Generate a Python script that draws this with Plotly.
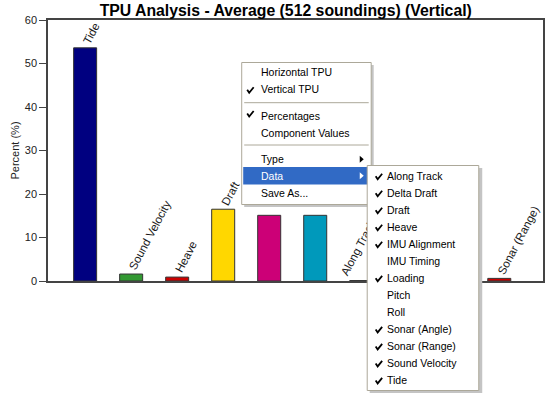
import plotly.graph_objects as go

# ---- data ----
categories = ["Tide", "Sound Velocity", "Heave", "Draft", "Delta Draft", "Loading",
              "Along Track", "IMU Alignment", "Sonar (Angle)", "Sonar (Range)"]
values = [53.6, 1.6, 0.9, 16.5, 15.1, 15.1, 0.1, 0.3, 0.3, 0.6]
bar_colors = ["#000080", "#339933", "#CC0000", "#FFD700", "#CC0077", "#0099BB",
              "#A0A0A0", "#808000", "#6600CC", "#CC0000"]
shown_labels = ["Tide", "Sound Velocity", "Heave", "Draft", "", "",
                "Along Track", "", "", "Sonar (Range)"]
y_ticks = [0, 10, 20, 30, 40, 50, 60]

menu_items = ["Horizontal TPU", "Vertical TPU", None, "Percentages", "Component Values",
              None, "Type", "Data", "Save As..."]
menu_checked = ["Vertical TPU", "Percentages"]
sub_items = ["Along Track", "Delta Draft", "Draft", "Heave", "IMU Alignment", "IMU Timing",
             "Loading", "Pitch", "Roll", "Sonar (Angle)", "Sonar (Range)", "Sound Velocity", "Tide"]
sub_unchecked = ["IMU Timing", "Pitch", "Roll"]
# labels partly hidden behind the popup menu are drawn as trace text (below the menu)
behind_menu = ["Along Track"]

W, H = 553, 397
L, R, T, B = 48, 545, 20, 281
PX_PER_CAT = 46.2
LABEL_FONT = dict(family="Liberation Sans", size=11.5, color="#1A1A1A")


def px(x):
    return (x - L) / (R - L)


def py(y):
    return (B - y) / (B - T)


xs = list(range(len(categories)))
fig = go.Figure()
fig.add_trace(go.Bar(
    x=xs, y=values,
    marker=dict(color=bar_colors, line=dict(color="#333333", width=1)),
    width=0.5, hoverinfo="skip",
))
# transparent overlay carrying labels that must sit below the menu
fig.add_trace(go.Bar(
    x=xs, y=values, width=0.5, offset=-0.25 - 3 / PX_PER_CAT,
    marker=dict(color="rgba(0,0,0,0)", line=dict(width=0)),
    text=[lab if lab in behind_menu else "" for lab in shown_labels],
    textposition="outside", textangle=-62, constraintext="none", cliponaxis=False,
    outsidetextfont=LABEL_FONT,
    hoverinfo="skip",
))

shapes = []
annos = []
FONT = "Liberation Sans"

for i, (lab, v) in enumerate(zip(shown_labels, values)):
    if lab and lab not in behind_menu:
        annos.append(dict(x=i - 0.25, y=v, xref="x", yref="y", text=lab, showarrow=False,
                          textangle=-62, xanchor="left", yanchor="bottom", borderpad=0,
                          xshift=6, yshift=1, font=LABEL_FONT))


def rect(x0, y0, x1, y1, fill, line=None):
    shapes.append(dict(type="rect", xref="paper", yref="paper", layer="above",
                       x0=px(x0), x1=px(x1), y0=py(y1), y1=py(y0),
                       fillcolor=fill,
                       line=dict(color=line or fill, width=1 if line else 0)))


def hline(x0, x1, y, color):
    shapes.append(dict(type="line", xref="paper", yref="paper", layer="above",
                       x0=px(x0), x1=px(x1), y0=py(y), y1=py(y),
                       line=dict(color=color, width=1)))


def path(pts, color, closed=False, width=1.6):
    d = "M " + " L ".join(f"{px(a):.5f},{py(b):.5f}" for a, b in pts)
    if closed:
        d += " Z"
    shapes.append(dict(type="path", xref="paper", yref="paper", layer="above", path=d,
                       fillcolor=color if closed else None,
                       line=dict(color=color, width=0 if closed else width)))


def check(x, y):
    path([(x - 3, y - 0.5), (x - 1, y + 2.5), (x + 3.5, y - 3)], "#000000", width=1.8)


def text(x, y, s, color="#000000"):
    annos.append(dict(xref="paper", yref="paper", x=px(x), y=py(y), text=s, showarrow=False,
                      xanchor="left", yanchor="middle", borderpad=0,
                      font=dict(family=FONT, size=10.5, color=color)))


# main menu
rect(245, 65, 375, 207, "#C4C4C4")
rect(242.5, 62.5, 372.5, 204.5, "#FFFFFF", "#ACA899")
row_y = [72.3, 89.3, 102.7, 116, 133, 145, 159.3, 175.7, 192.7]
for item, yy in zip(menu_items, row_y):
    if item is None:
        hline(245, 370, yy, "#ACA899")
        continue
    if item == "Data":
        rect(244, 167, 371, 184.5, "#316AC5")
        text(260.5, yy, item, "#FFFFFF")
        path([(361, yy - 3.5), (365, yy), (361, yy + 3.5)], "#FFFFFF", closed=True)
    else:
        text(260.5, yy, item)
        if item == "Type":
            path([(361, yy - 3.5), (365, yy), (361, yy + 3.5)], "#000000", closed=True)
    if item in menu_checked:
        check(251, yy - (2 if item == "Percentages" else -1))

# sub menu
rect(371, 168, 484, 393, "#C4C4C4")
rect(368.5, 165.5, 480.5, 390.5, "#FFFFFF", "#ACA899")
for i, item in enumerate(sub_items):
    yy = 175.7 + i * 17.02
    text(387.5, yy, item)
    if item not in sub_unchecked:
        check(380, yy + 1)

fig.update_layout(
    width=W, height=H,
    margin=dict(l=L, r=W - R, t=T, b=H - B),
    paper_bgcolor="#FFFFFF", plot_bgcolor="#FFFFFF",
    showlegend=False, barmode="overlay",
    title=dict(text="<b>TPU Analysis - Average (512 soundings) (Vertical)</b>",
               x=px(286.7), xref="paper", xanchor="center", y=1 - 10 / H, yanchor="middle",
               font=dict(family="Liberation Sans", size=15.8, color="#000000")),
    xaxis=dict(range=[-0.807, 9.95], showticklabels=False, ticks="", showgrid=False,
               zeroline=False, showline=True, linecolor="#444444", linewidth=1.5, mirror=True),
    yaxis=dict(range=[0, 60], tickvals=y_ticks, ticks="outside", ticklen=7, tickcolor="#444444",
               showgrid=False, zeroline=False, showline=True, linecolor="#444444",
               linewidth=1.5, mirror=True,
               tickfont=dict(family="Liberation Sans", size=11, color="#222222"),
               title=dict(text="Percent (%)", standoff=3,
                          font=dict(family="Liberation Sans", size=11, color="#222222"))),
    shapes=shapes, annotations=annos,
)

fig.write_html("out.html", config={"displayModeBar": False},
               post_script="document.body.style.margin='0';document.body.style.padding='0';")
